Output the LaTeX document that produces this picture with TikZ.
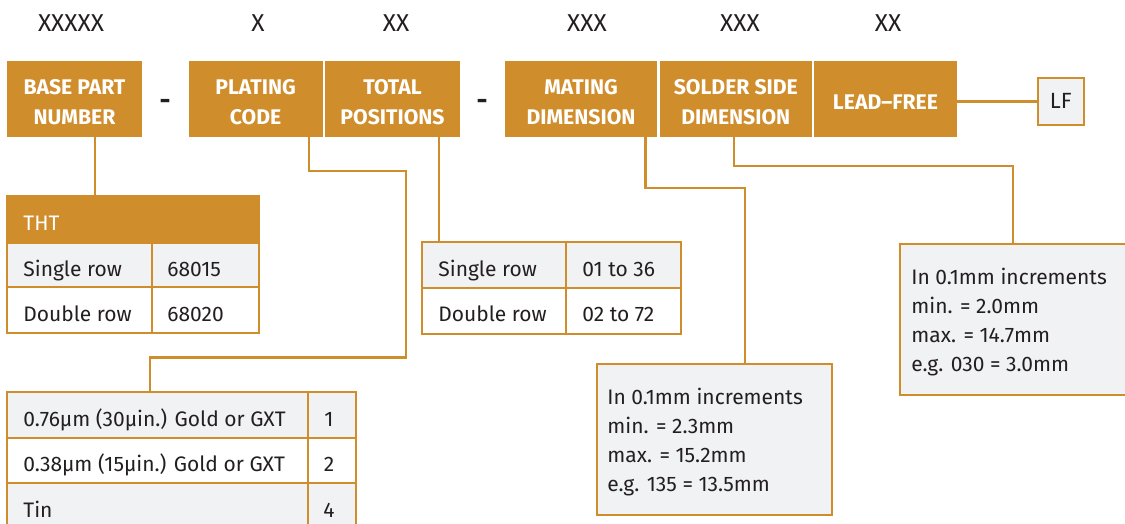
\documentclass[tikz,border=0pt]{standalone}
\usepackage{fontspec}
\setmainfont{Fira Sans}
\usetikzlibrary{positioning}

\definecolor{brandorange}{RGB}{208,141,43}
\definecolor{cellgray}{RGB}{241,242,244}
\definecolor{inkgray}{RGB}{35,31,32}

\begin{document}
\begin{tikzpicture}[x=0.5pt,y=-0.5pt,
  part/.style={fill=brandorange, inner sep=0pt, minimum height=37.85pt},
  partname/.style={text=white, font=\bfseries\fontsize{10.6}{15}\selectfont, align=center, inner sep=0pt},
  digits/.style={font=\fontsize{12.2}{14}\selectfont, text=inkgray},
  cell/.style={draw=brandorange, line width=1pt},
  entry/.style={anchor=base west, font=\fontsize{10.5}{14.5}\selectfont, text=inkgray,
    inner sep=0pt, align=left},
  note/.style={draw=brandorange, line width=1pt, fill=cellgray, anchor=north west,
    minimum width=117.7pt, minimum height=75.65pt, inner sep=0pt},
  wire/.style={draw=brandorange, line width=1.3pt}
]
    \fill[white] (0,0) rectangle (1125,524);
    \useasboundingbox (0,0) rectangle (1125,524);

    % Digit groups
    \node[digits] (dgBase) at (71,23) {XXXXX};
    \node[digits] (dgPlate) at (258,23) {X};
    \node[digits] (dgTotal) at (396,23) {XX};
    \node[digits] (dgMate) at (587,23) {XXX};
    \node[digits] (dgSolder) at (740,23) {XXX};
    \node[digits] (dgLead) at (888,23) {XX};

    % Part number fields
    \node[part, minimum width=67.5pt] (base) at (74.5,98.85) {};
    \node[part, minimum width=67pt] (plating) at (255.5,98.85) {};
    \node[part, minimum width=67.5pt] (total) at (392.5,98.85) {};
    \node[part, minimum width=76.25pt] (mating) at (581,98.85) {};
    \node[part, minimum width=75.8pt] (solder) at (735.8,98.85) {};
    \node[part, minimum width=71.5pt] (lead) at (885.5,98.85) {};
    \node[partname] (baseName) at ([yshift=-1.75pt]base.center) {BASE PART\\NUMBER};
    \node[partname] (platingName) at ([yshift=-1.75pt]plating.center) {PLATING\\CODE};
    \node[partname] (totalName) at ([yshift=-1.75pt]total.center) {TOTAL\\POSITIONS};
    \node[partname] (matingName) at ([yshift=-1.75pt]mating.center) {MATING\\DIMENSION};
    \node[partname] (solderName) at ([yshift=-1.75pt]solder.center) {SOLDER SIDE\\DIMENSION};
    \node[partname] (leadName) at ([yshift=-1.5pt]lead.center) {LEAD\textendash FREE};
    \node[draw=brandorange, line width=1pt, fill=cellgray, text=inkgray,
      font=\fontsize{11}{12}\selectfont, minimum width=23.2pt, minimum height=23.35pt,
      inner sep=0pt] (lf) at (1060.8,101.35) {LF};

    % Separators
    \node[digits, font=\bfseries\fontsize{13.5}{14}\selectfont] (sepA) at (165,104) {-};
    \node[digits, font=\bfseries\fontsize{13.5}{14}\selectfont] (sepB) at (482,104) {-};

    % THT table
    \draw[cell, fill=brandorange] (7,195.7) rectangle (259,243);
    \draw[cell, fill=cellgray] (7,243) rectangle (152,287) (152,243) rectangle (259,287);
    \draw[cell, fill=white] (7,287) rectangle (152,333) (152,287) rectangle (259,333);
    \node[entry, text=white] (thtHead) at (23,230) {THT};
    \node[entry] (thtSingle) at (23,276) {Single row};
    \node[entry] (thtSingleNo) at (167,276) {68015};
    \node[entry] (thtDouble) at (23,321) {Double row};
    \node[entry] (thtDoubleNo) at (167,321) {68020};
    \coordinate (thtTop) at (95,195.7);

    % Positions table
    \draw[cell, fill=cellgray] (422,242) rectangle (566.4,287.7) (566.4,242) rectangle (680.6,287.7);
    \draw[cell, fill=white] (422,287.7) rectangle (566.4,333.7) (566.4,287.7) rectangle (680.6,333.7);
    \node[entry] (posSingle) at (438,276) {Single row};
    \node[entry] (posSingleNo) at (582,276) {01 to 36};
    \node[entry] (posDouble) at (438,321.5) {Double row};
    \node[entry] (posDoubleNo) at (582,321.5) {02 to 72};
    \coordinate (posTop) at (439,242);

    % Plating table
    \draw[cell, fill=cellgray] (7,392) rectangle (308,437.7) (308,392) rectangle (356,437.7);
    \draw[cell, fill=white] (7,437.7) rectangle (308,483.3) (308,437.7) rectangle (356,483.3);
    \draw[cell, fill=cellgray] (7,483.3) rectangle (308,529) (308,483.3) rectangle (356,529);
    \node[entry] (plGold) at (23,426) {0.76µm (30µin.) Gold or GXT};
    \node[entry, anchor=base] (plGoldNo) at (329,426) {1};
    \node[entry] (plThin) at (23,471.5) {0.38µm (15µin.) Gold or GXT};
    \node[entry, anchor=base] (plThinNo) at (329,471.5) {2};
    \node[entry] (plTin) at (23,517) {Tin};
    \node[entry, anchor=base] (plTinNo) at (329,517) {4};
    \coordinate (plateTop) at (150,392);

    % Dimension notes (base anchor sits on the last line)
    \node[note] (mateNote) at (595.6,362.7) {};
    \node[entry] (mateText) at (607,491) {In 0.1mm increments\\min. = 2.3mm\\max. = 15.2mm\\e.g. 135 = 13.5mm};
    \node[note] (solderNote) at (899,242.7) {};
    \node[entry] (solderText) at (911,371) {In 0.1mm increments\\min. = 2.0mm\\max. = 14.7mm\\e.g. 030 = 3.0mm};

    % Connectors
    \draw[wire] (base.south -| thtTop) -- (thtTop);
    \draw[wire] (plating.south -| 309,0) |- (406,171) -- (406,357.7) -| (plateTop);
    \draw[wire] (total.south -| posTop) -- (posTop);
    \draw[wire] (mating.south -| 645.6,0) |- (745,188) -- (mateNote.north -| 745,0);
    \draw[wire] (solder.south -| 734,0) |- (1013,166) -- (solderNote.north -| 1013,0);
    \draw[wire] (lead.east |- lf.west) -- (lf.west);
\end{tikzpicture}
\end{document}
